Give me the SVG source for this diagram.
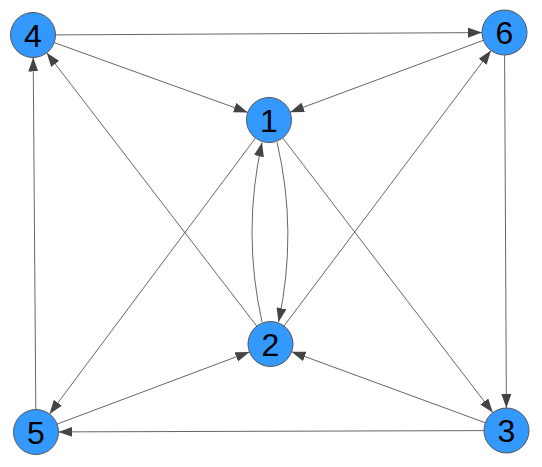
<svg xmlns="http://www.w3.org/2000/svg" width="542" height="467" viewBox="0 0 542 467">
<style>
.e{fill:none;stroke:#666;stroke-width:1;marker-end:url(#ah)}
.n circle{fill:#3399ff;stroke:#555;stroke-width:1}
.n text{font-family:"Liberation Sans",Arial,sans-serif;font-size:32px;fill:#000;text-anchor:middle}
</style>
<defs>
<marker id="ah" markerUnits="userSpaceOnUse" markerWidth="14" markerHeight="10" refX="14" refY="5" orient="auto">
<path d="M0,0 L14,5 L0,10 z" fill="#444"/>
</marker>
</defs>
<rect width="542" height="467" fill="#fff"/>
<g id="edges">
<line class="e" x1="55.5" y1="34.9" x2="482" y2="32.6"/>
<line class="e" x1="54.2" y1="42.6" x2="247.8" y2="112.4"/>
<line class="e" x1="483.4" y1="40.3" x2="290.1" y2="112.2"/>
<line class="e" x1="504.6" y1="55" x2="506.4" y2="408"/>
<line class="e" x1="256.8" y1="326.2" x2="46.7" y2="52.8"/>
<line class="e" x1="35.8" y1="409.5" x2="33.2" y2="57.5"/>
<line class="e" x1="284" y1="326" x2="491" y2="50.5"/>
<line class="e" x1="255.5" y1="138" x2="49.5" y2="414"/>
<line class="e" x1="282.7" y1="137.9" x2="492.8" y2="412.6"/>
<line class="e" x1="57.1" y1="424.1" x2="249.4" y2="351.9"/>
<line class="e" x1="485.4" y1="422.8" x2="291.6" y2="351.7"/>
<line class="e" x1="484" y1="430.6" x2="58.5" y2="431.9"/>
<path class="e" d="M262,322 Q242,232 262,142.5"/>
<path class="e" d="M277,142 Q298,232 278.5,322"/>
</g>
<g id="node4" class="n"><circle cx="33" cy="35" r="22.5"/><text x="33" y="46.5">4</text></g>
<g id="node6" class="n"><circle cx="504.5" cy="32.5" r="22.5"/><text x="504.5" y="44">6</text></g>
<g id="node1" class="n"><circle cx="269" cy="120" r="22.5"/><text x="269" y="131.5">1</text></g>
<g id="node2" class="n"><circle cx="270.5" cy="344" r="22.5"/><text x="270.5" y="355.5">2</text></g>
<g id="node5" class="n"><circle cx="36" cy="432" r="22.5"/><text x="36" y="443.5">5</text></g>
<g id="node3" class="n"><circle cx="506.5" cy="430.5" r="22.5"/><text x="506.5" y="442">3</text></g>
</svg>
